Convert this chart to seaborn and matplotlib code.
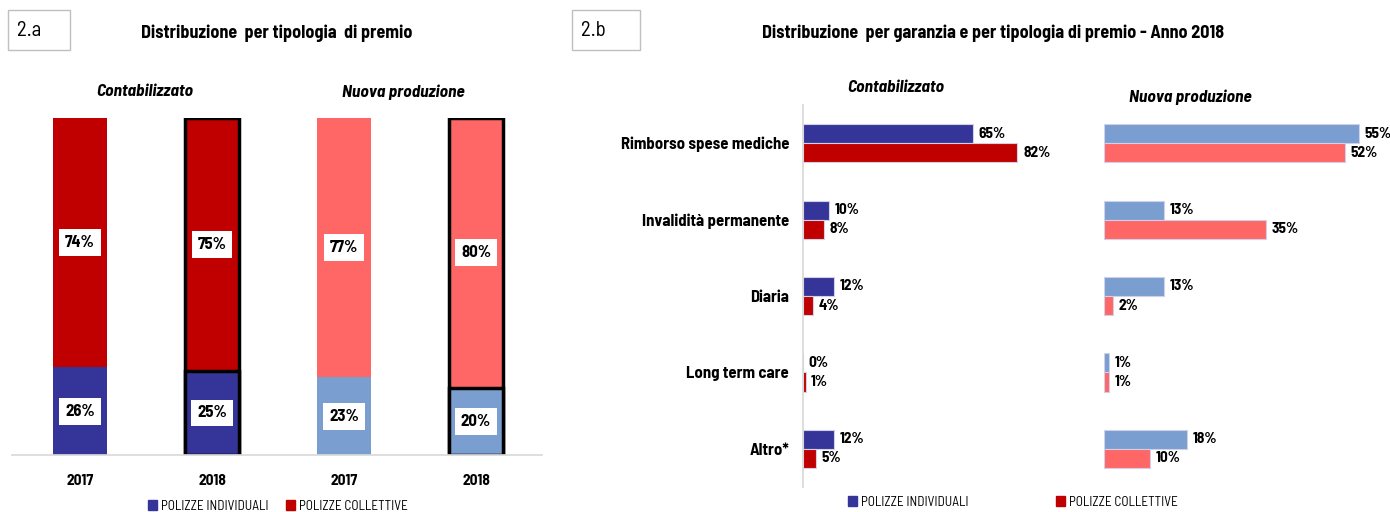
import pandas as pd
import numpy as np
import seaborn as sns
import matplotlib.pyplot as plt
from matplotlib.patches import Patch, Rectangle

# data - chart 2.a
keys_a = ['C2017', 'C2018', 'N2017', 'N2018']
years_a = ['2017', '2018', '2017', '2018']
individuali_a = [26, 25, 23, 20]
collettive_a = [74, 75, 77, 80]

# data - chart 2.b (anno 2018)
garanzie = ['Rimborso spese mediche', 'Invalidità permanente', 'Diaria', 'Long term care', 'Altro*']
cont_ind = [65, 10, 12, 0, 12]
cont_col = [82, 8, 4, 1, 5]
nuova_ind = [55, 13, 13, 1, 18]
nuova_col = [52, 35, 2, 1, 10]

DARK_BLUE = '#353599'
DARK_RED = '#c00000'
LIGHT_BLUE = '#7a9ecf'
LIGHT_RED = '#ff6666'

sns.set_theme(style='white')
plt.rcParams['font.family'] = ['Barlow Semi Condensed', 'DejaVu Sans']
plt.rcParams['text.color'] = 'black'
plt.rcParams['xtick.color'] = 'black'
plt.rcParams['ytick.color'] = 'black'

W, H = 1390, 512
fig = plt.figure(figsize=(W / 100, H / 100), dpi=100)


def rect(x0, y0, x1, y1):
    return [x0 / W, 1 - y1 / H, (x1 - x0) / W, (y1 - y0) / H]


def ftext(x, y, s, **kw):
    fig.text(x / W, 1 - y / H, s, ha='center', va='center', **kw)


def numbox(x0, y0, x1, y1, s):
    fig.patches.append(Rectangle((x0 / W, 1 - y1 / H), (x1 - x0) / W, (y1 - y0) / H,
                                 transform=fig.transFigure, fill=False,
                                 edgecolor='#bfbfbf', linewidth=1))
    fig.text((x0 + 9) / W, 1 - (y0 + y1) / 2 / H, s, ha='left', va='center', fontsize=15)


# ---- 2.a stacked bars ----
ax_a = fig.add_axes(rect(12, 118, 542, 455))
totals = [i + c for i, c in zip(individuali_a, collettive_a)]
pal_top = [DARK_RED, DARK_RED, LIGHT_RED, LIGHT_RED]
pal_bot = [DARK_BLUE, DARK_BLUE, LIGHT_BLUE, LIGHT_BLUE]
sns.barplot(x=keys_a, y=[t / 100 for t in totals], hue=keys_a, palette=pal_top,
            width=0.41, legend=False, ax=ax_a, saturation=1)
sns.barplot(x=keys_a, y=[v / 100 for v in individuali_a], hue=keys_a, palette=pal_bot,
            width=0.41, legend=False, ax=ax_a, saturation=1)
for p in ax_a.patches:
    idx = int(round(p.get_x() + p.get_width() / 2))
    if idx in (1, 3):
        p.set_edgecolor('black')
        p.set_linewidth(2.5)
    else:
        p.set_linewidth(0)
for i in range(len(keys_a)):
    lo = individuali_a[i] / 100
    hi = totals[i] / 100
    for yv, val in ((lo / 2, individuali_a[i]), ((lo + hi) / 2, collettive_a[i])):
        ax_a.text(i, yv, f'{val}%', ha='center', va='center', fontsize=12, fontweight='bold',
                  bbox=dict(boxstyle='square,pad=0.35', facecolor='white', edgecolor='none'))
ax_a.set_xlim(-0.515, 3.5)
ax_a.set_ylim(0, 1)
ax_a.set_yticks([])
ax_a.set_xticks(range(4))
ax_a.set_xticklabels(years_a, fontweight='bold', fontsize=11)
ax_a.tick_params(axis='x', length=0, pad=14)
ax_a.set_xlabel('')
for s in ('top', 'left', 'right'):
    ax_a.spines[s].set_visible(False)
ax_a.spines['bottom'].set_color('#d9d9d9')

numbox(8, 10, 70, 50, '2.a')
ftext(277, 33, 'Distribuzione  per tipologia  di premio', fontsize=13, fontweight='bold')
ftext(145, 92, 'Contabilizzato', fontsize=12.5, fontweight='bold', style='italic')
ftext(403, 92, 'Nuova produzione', fontsize=12.5, fontweight='bold', style='italic')

fig.legend(handles=[Patch(color=DARK_BLUE, label='POLIZZE INDIVIDUALI'),
                    Patch(color=DARK_RED, label='POLIZZE COLLETTIVE')],
           loc='center', bbox_to_anchor=(278 / W, 1 - 506 / H), ncol=2, frameon=False,
           fontsize=9.5, handlelength=0.7, handleheight=0.7, handletextpad=0.3, columnspacing=1.3)

# ---- 2.b grouped horizontal bars ----
tipo = ['Individuali', 'Collettive']
df_c = pd.DataFrame({'Garanzia': garanzie * 2,
                     'Tipo': np.repeat(tipo, len(garanzie)),
                     'Valore': cont_ind + cont_col})
df_n = pd.DataFrame({'Garanzia': garanzie * 2,
                     'Tipo': np.repeat(tipo, len(garanzie)),
                     'Valore': nuova_ind + nuova_col})

px_c = 170 / 65
px_n = 255 / 55
ax_c = fig.add_axes(rect(803, 105, 1070, 487))
ax_n = fig.add_axes(rect(1104, 105, 1380, 487))

for ax, df, pal, scale, x0, x1 in ((ax_c, df_c, [DARK_BLUE, DARK_RED], px_c, 803, 1070),
                                   (ax_n, df_n, [LIGHT_BLUE, LIGHT_RED], px_n, 1104, 1380)):
    sns.barplot(data=df, y='Garanzia', x='Valore', hue='Tipo', palette=pal, orient='h',
                width=0.5, legend=False, ax=ax, saturation=1,
                edgecolor='#d0d0e8', linewidth=0.8)
    for cont in ax.containers:
        ax.bar_label(cont, fmt='%.0f%%', padding=4, fontsize=11, fontweight='bold')
    ax.set_xlim(0, (x1 - x0) / scale)
    ax.set_ylim(4.5, -0.5)
    ax.set_xticks([])
    ax.set_xlabel('')
    ax.set_ylabel('')
    for s in ('top', 'right', 'bottom', 'left'):
        ax.spines[s].set_visible(False)

ax_c.spines['left'].set_visible(True)
ax_c.spines['left'].set_color('#d9d9d9')
ax_c.tick_params(axis='y', length=0, pad=10, labelsize=12)
for lab in ax_c.get_yticklabels():
    lab.set_fontweight('bold')
ax_n.set_yticks([])

numbox(572, 10, 640, 50, '2.b')
ftext(993, 33, 'Distribuzione  per garanzia e per tipologia di premio - Anno 2018',
      fontsize=13, fontweight='bold')
ftext(896, 88, 'Contabilizzato', fontsize=12.5, fontweight='bold', style='italic')
ftext(1190, 97, 'Nuova produzione', fontsize=12.5, fontweight='bold', style='italic')

fig.legend(handles=[Patch(color=DARK_BLUE, label='POLIZZE INDIVIDUALI'),
                    Patch(color=DARK_RED, label='POLIZZE COLLETTIVE')],
           loc='center', bbox_to_anchor=(1013 / W, 1 - 502 / H), ncol=2, frameon=False,
           fontsize=9.5, handlelength=0.7, handleheight=0.7, handletextpad=0.3, columnspacing=6.6)

fig.savefig('out.png', dpi=100)
